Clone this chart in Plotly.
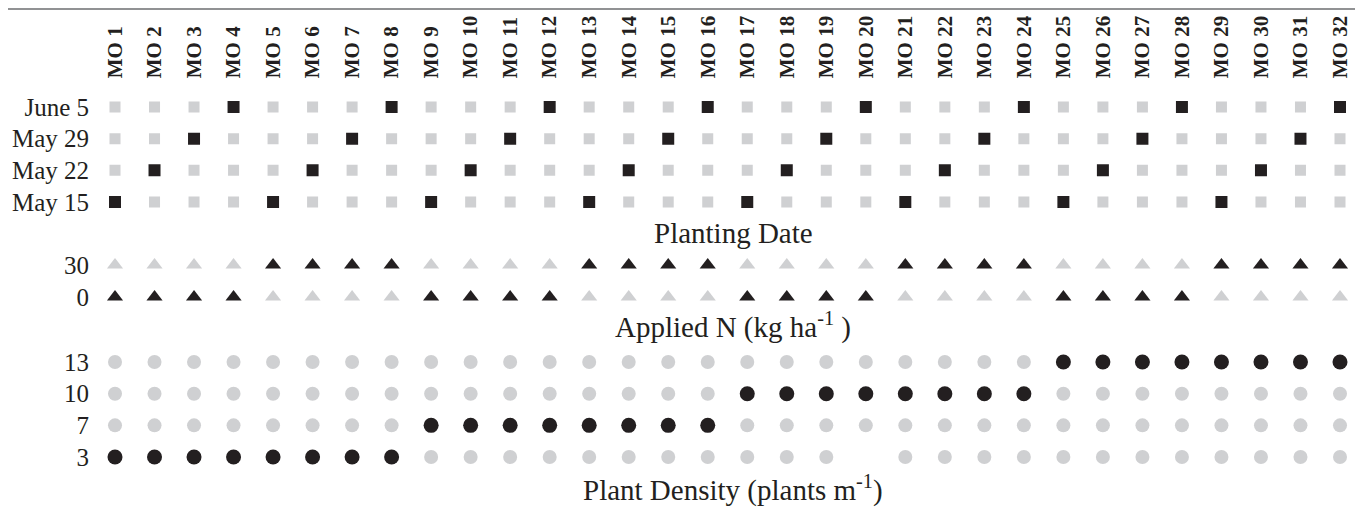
import plotly.graph_objects as go

# ---------------- data ----------------
mo_ids = list(range(1, 33))
mo_labels = ["MO %d" % i for i in mo_ids]

date_levels = ["May 15", "May 22", "May 29", "June 5"]
planting_date = ["May 15", "May 22", "May 29", "June 5",
                 "May 15", "May 22", "May 29", "June 5",
                 "May 15", "May 22", "May 29", "June 5",
                 "May 15", "May 22", "May 29", "June 5",
                 "May 15", "May 22", "May 29", "June 5",
                 "May 15", "May 22", "May 29", "June 5",
                 "May 15", "May 22", "May 29", "June 5",
                 "May 15", "May 22", "May 29", "June 5"]

n_levels = ["0", "30"]
applied_n = ["0", "0", "0", "0", "30", "30", "30", "30",
             "0", "0", "0", "0", "30", "30", "30", "30",
             "0", "0", "0", "0", "30", "30", "30", "30",
             "0", "0", "0", "0", "30", "30", "30", "30"]

density_levels = ["3", "7", "10", "13"]
plant_density = ["3", "3", "3", "3", "3", "3", "3", "3",
                 "7", "7", "7", "7", "7", "7", "7", "7",
                 "10", "10", "10", "10", "10", "10", "10", "10",
                 "13", "13", "13", "13", "13", "13", "13", "13"]
# grey dot absent in the reference image
density_missing = [(20, "3")]

panel_titles = ["Planting Date", "Applied N (kg ha<sup>-1</sup> )",
                "Plant Density (plants m<sup>-1</sup>)"]

# ---------------- styles ----------------
BLACK = "#231f20"
GREY = "#cfd0d2"
FONT = "Liberation Serif"
W, H = 1363, 523
OFF = 8                      # page body margin
PLOT_LEFT_PAGE = 100         # page x of plot-area left edge
ML, MR = PLOT_LEFT_PAGE - OFF, 0
PW = W - ML - MR

def split(levels, assigned, missing=()):
    gx, gy, bx, by = [], [], [], []
    for m, a in zip(mo_ids, assigned):
        for lv in levels:
            if lv == a:
                bx.append(m); by.append(lv)
            elif (m, lv) not in missing:
                gx.append(m); gy.append(lv)
    return gx, gy, bx, by

fig = go.Figure()

panels = [
    (date_levels, planting_date, (), "square", 11, 12, "y"),
    (n_levels, applied_n, (), "triangle-up", 14, 14, "y2"),
    (density_levels, plant_density, density_missing, "circle", 14, 15, "y3"),
]
xrefs = {"y": "x", "y2": "x2", "y3": "x3"}
for levels, assigned, missing, sym, gs, bs, yax in panels:
    gx, gy, bx, by = split(levels, assigned, missing)
    fig.add_trace(go.Scatter(x=gx, y=gy, mode="markers", xaxis=xrefs[yax], yaxis=yax,
                             marker=dict(symbol=sym, size=gs, color=GREY, line_width=0),
                             showlegend=False, hoverinfo="skip"))
    fig.add_trace(go.Scatter(x=bx, y=by, mode="markers", xaxis=xrefs[yax], yaxis=yax,
                             marker=dict(symbol=sym, size=bs, color=BLACK, line_width=0),
                             showlegend=False, hoverinfo="skip"))

# pixel-derived layout (page pixels)
px_per = (1340 - 115) / 31.0
xmin = 1 - (115 - PLOT_LEFT_PAGE) / px_per
xmax = xmin + PW / px_per

def dom(top_px, bot_px):
    return [1 - (bot_px - OFF) / H, 1 - (top_px - OFF) / H]

def px_x(page_x):
    return (page_x - PLOT_LEFT_PAGE) / PW

def px_y(page_y):
    return 1 - (page_y - OFF) / H

ytick_font = dict(family=FONT, size=25, color=BLACK)
common_y = dict(type="category", showgrid=False, zeroline=False, showline=False,
                ticks="", tickfont=ytick_font, ticklabelstandoff=10, fixedrange=True)

fig.update_layout(
    width=W, height=H,
    margin=dict(l=ML, r=MR, t=0, b=0),
    paper_bgcolor="white", plot_bgcolor="white",
    xaxis=dict(range=[xmin, xmax], side="top", tickmode="array", tickvals=mo_ids,
               ticktext=["<b>%s</b>" % s for s in mo_labels], tickangle=-90,
               tickfont=dict(family=FONT, size=21, color=BLACK), ticks="",
               showgrid=False, zeroline=False, showline=False, anchor="y",
               ticklabelstandoff=12),
    xaxis2=dict(range=[xmin, xmax], matches="x", showticklabels=False, showgrid=False,
                zeroline=False, showline=False, anchor="y2"),
    xaxis3=dict(range=[xmin, xmax], matches="x", showticklabels=False, showgrid=False,
                zeroline=False, showline=False, anchor="y3"),
    yaxis=dict(common_y, domain=dom(91.2, 217.8), range=[-0.5, 3.5],
               categoryorder="array", categoryarray=date_levels),
    yaxis2=dict(common_y, domain=dom(249, 313), range=[-0.5, 1.5],
                categoryorder="array", categoryarray=n_levels),
    yaxis3=dict(common_y, domain=dom(346.2, 472.8), range=[-0.5, 3.5],
                categoryorder="array", categoryarray=density_levels),
)

# top rule (as close to the page top as the figure allows)
fig.add_shape(type="line", xref="paper", yref="paper",
              x0=px_x(7), x1=px_x(1357), y0=px_y(9), y1=px_y(9),
              line=dict(color="#6d6e70", width=1.5))

# panel titles
for title, ypx in zip(panel_titles, [233, 325, 488]):
    fig.add_annotation(text=title, xref="paper", yref="paper",
                       x=px_x(733), y=px_y(ypx),
                       showarrow=False, xanchor="center", yanchor="middle",
                       font=dict(family=FONT, size=29, color=BLACK))

fig.write_html("out.html")
